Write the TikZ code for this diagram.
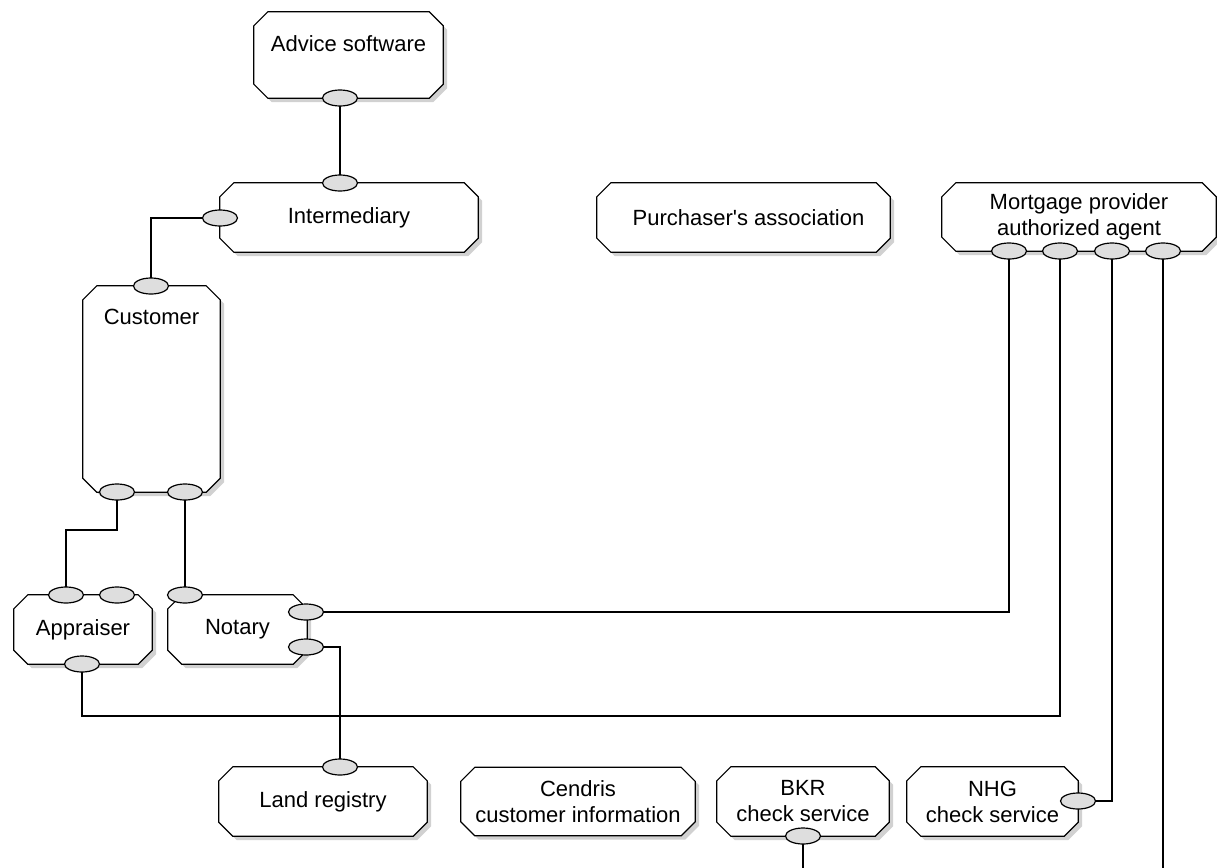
\documentclass[tikz,border=0pt]{standalone}
\usepackage{fontspec}
\setmainfont{Liberation Sans}
\usetikzlibrary{shapes.geometric,calc}
\pgfdeclarelayer{background}
\pgfsetlayers{background,main}
\definecolor{shadowgray}{gray}{0.82}
\definecolor{portgray}{gray}{0.87}
% chamfer length of the actor boxes
\newcommand\chamf{14}
% octagonal outline with a drop shadow around a named actor node
\newcommand\actorbox[1]{%
  \fill[shadowgray]
    ($(#1.north west)+(\chamf+4,4)$) -- ($(#1.north east)+(-\chamf+4,4)$) --
    ($(#1.north east)+(4,\chamf+4)$) -- ($(#1.south east)+(4,-\chamf+4)$) --
    ($(#1.south east)+(-\chamf+4,4)$) -- ($(#1.south west)+(\chamf+4,4)$) --
    ($(#1.south west)+(4,-\chamf+4)$) -- ($(#1.north west)+(4,\chamf+4)$) -- cycle;
  \draw[line width=1.2pt, fill=white]
    ($(#1.north west)+(\chamf,0)$) -- ($(#1.north east)+(-\chamf,0)$) --
    ($(#1.north east)+(0,\chamf)$) -- ($(#1.south east)+(0,-\chamf)$) --
    ($(#1.south east)+(-\chamf,0)$) -- ($(#1.south west)+(\chamf,0)$) --
    ($(#1.south west)+(0,-\chamf)$) -- ($(#1.north west)+(0,\chamf)$) -- cycle;}
\begin{document}
\begin{tikzpicture}[x=1pt,y=-1pt,
  font=\fontsize{22}{26}\selectfont,
  actor/.style={rectangle, inner sep=0pt, align=center},
  port/.style={ellipse, draw, line width=1.2pt, fill=portgray,
    minimum width=35pt, minimum height=16pt, inner sep=0pt},
  wire/.style={line width=1.2pt},
  toptext/.style={label={[anchor=north, yshift=-20pt]north:#1}}]
\useasboundingbox (0,0) rectangle (1217,867);

% actors
\node[actor, minimum width=189pt, minimum height=86pt, toptext=Advice software] (adv) at (348.5,55) {};
\node[actor, minimum width=258pt, minimum height=69pt] (int) at (349,217.5) {Intermediary};
\node[actor, minimum width=293pt, minimum height=69pt] (pur) at (743.5,217.5) {\hspace{10pt}Purchaser\textquotesingle s association};
\node[actor, minimum width=274pt, minimum height=68pt] (mort) at (1079,217) {Mortgage provider\\authorized agent};
\node[actor, minimum width=137pt, minimum height=206pt, toptext=Customer] (cust) at (151.5,389) {};
\node[actor, minimum width=138pt, minimum height=69pt] (app) at (83,629.5) {Appraiser};
\node[actor, minimum width=139pt, minimum height=69pt] (not) at (237.5,629.5) {Notary};
\node[actor, minimum width=208pt, minimum height=69pt] (land) at (323,801.5) {Land registry};
\node[actor, minimum width=234pt, minimum height=68pt] (cen) at (578,801.5) {Cendris\\customer information};
\node[actor, minimum width=172pt, minimum height=69pt] (bkr) at (803,801.5) {BKR\\check service};
\node[actor, minimum width=171pt, minimum height=69pt] (nhg) at (992.5,801.5) {NHG\\check service};

\begin{pgfonlayer}{background}
  \foreach \n in {adv,int,pur,mort,cust,app,not,land,cen,bkr,nhg} {\actorbox{\n}}
\end{pgfonlayer}

% port positions
\coordinate (advp-c) at (340,98);
\coordinate (intt-c) at (340,183);
\coordinate (intl-c) at (220,218);
\coordinate (custt-c) at (151,286);
\coordinate (custb1-c) at (117,492);
\coordinate (custb2-c) at (185,492);
\coordinate (appt1-c) at (66,595);
\coordinate (appt2-c) at (117,595);
\coordinate (appb-c) at (82,664);
\coordinate (nott-c) at (185,595);
\coordinate (notr1-c) at (306,612);
\coordinate (notr2-c) at (306,647);
\coordinate (mp1-c) at (1009,251);
\coordinate (mp2-c) at (1060,251);
\coordinate (mp3-c) at (1112,251);
\coordinate (mp4-c) at (1163,251);
\coordinate (landp-c) at (340,767);
\coordinate (bkrp-c) at (803,836);
\coordinate (nhgp-c) at (1078,801);
\coordinate (mp4-end) at (1163,870);
\coordinate (bkr-end) at (803,870);

% connectors (drawn below the ports)
\draw[wire] (advp-c) -- (intt-c);
\draw[wire] (intl-c) -| (custt-c);
\draw[wire] (custb1-c) -- (custb1-c |- 0,530) -| (appt1-c);
\draw[wire] (custb2-c) -- (nott-c);
\draw[wire] (notr1-c) -| (mp1-c);
\draw[wire] (notr2-c) -| (landp-c);
\draw[wire] (appb-c) -- (appb-c |- 0,716) -| (mp2-c);
\draw[wire] (mp3-c) |- (nhgp-c);
\draw[wire] (mp4-c) -- (mp4-end);
\draw[wire] (bkrp-c) -- (bkr-end);

% ports
\foreach \p in {advp,intt,intl,custt,custb1,custb2,appt1,appt2,appb,nott,notr1,notr2,mp1,mp2,mp3,mp4,landp,bkrp,nhgp}
  \node[port] (\p) at (\p-c) {};
\end{tikzpicture}
\end{document}
